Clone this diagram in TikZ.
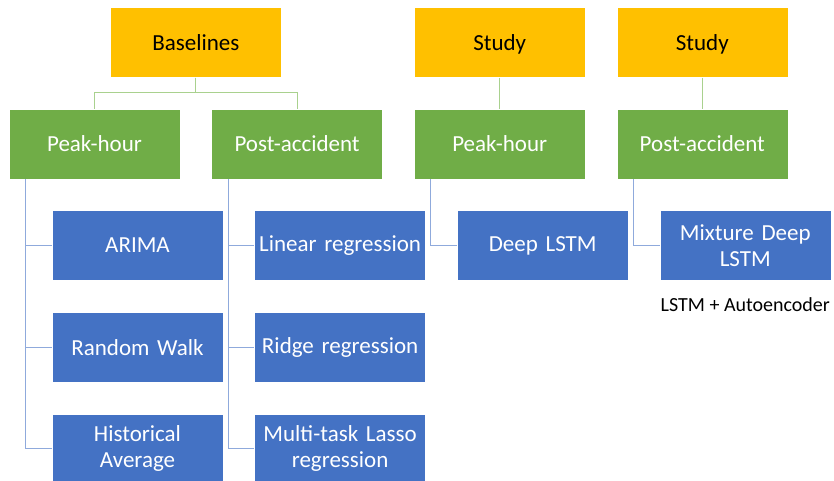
\documentclass[tikz,border=0pt]{standalone}
\usepackage{fontspec}
\setmainfont{Carlito}
\usepackage{xcolor}
\usepackage{tikz}
\usetikzlibrary{positioning,calc}

\definecolor{boxyellow}{HTML}{FFC000}
\definecolor{boxgreen}{HTML}{70AD47}
\definecolor{boxblue}{HTML}{4472C4}
\definecolor{linegreen}{HTML}{A9D18E}
\definecolor{lineblue}{HTML}{8FAADC}

\begin{document}
\begin{tikzpicture}[
    x=1pt, y=1pt,
    box/.style={rectangle, draw=white, line width=0.6pt, minimum width=171pt, minimum height=70pt, text width=168pt, inner sep=1pt, align=center, font=\fontsize{23}{26}\selectfont},
    head/.style={box, fill=boxyellow, text=black, text depth=0pt},
    group/.style={box, fill=boxgreen, text=white},
    model/.style={box, fill=boxblue, text=white},
    gline/.style={draw=linegreen, line width=1pt},
    bline/.style={draw=lineblue, line width=1pt}
]
    \useasboundingbox (0,0) rectangle (834,-481);

    % second row
    \node[group] (peak1) at (94.5,-144) {Peak-hour};
    \node[group, right=31pt of peak1] (post1) {Post-accident};
    \node[group, right=31pt of post1] (peak2) {Peak-hour};
    \node[group, right=31pt of peak2] (post2) {Post-accident};

    % top row
    \node[head, anchor=south] (base) at ($(peak1.north)!0.5!(post1.north)+(0,31)$) {Baselines};
    \node[head, above=31pt of peak2] (study1) {Study};
    \node[head, above=31pt of post2] (study2) {Study};

    % models
    \node[model, below=31pt of peak1, xshift=43pt] (arima) {ARIMA};
    \node[model, below=31pt of arima] (walk) {Random Walk};
    \node[model, below=31pt of walk] (hist) {Historical\\Average};
    \node[model, below=31pt of post1, xshift=43pt] (linreg) {Linear regression};
    \node[model, below=31pt of linreg] (ridge) {Ridge regression};
    \node[model, below=31pt of ridge] (lasso) {Multi-task Lasso\\regression};
    \node[model, below=31pt of peak2, xshift=43pt] (lstm) {Deep LSTM};
    \node[model, below=31pt of post2, xshift=43pt] (mix) {Mixture Deep\\LSTM};
    \node[below=17pt of mix, inner sep=0pt, font=\fontsize{20}{24}\selectfont] (note) {LSTM + Autoencoder};

    % connectors
    \draw[gline] (base.south) -- ++(0,-15) -| (peak1.north);
    \draw[gline] (base.south) -- ++(0,-15) -| (post1.north);
    \draw[gline] (study1) -- (peak2);
    \draw[gline] (study2) -- (post2);

    \foreach \g/\m in {peak1/arima, peak1/walk, peak1/hist, post1/linreg, post1/ridge, post1/lasso, peak2/lstm, post2/mix}
        \draw[bline] ([xshift=17pt]\g.south west) |- (\m.west);
\end{tikzpicture}
\end{document}
